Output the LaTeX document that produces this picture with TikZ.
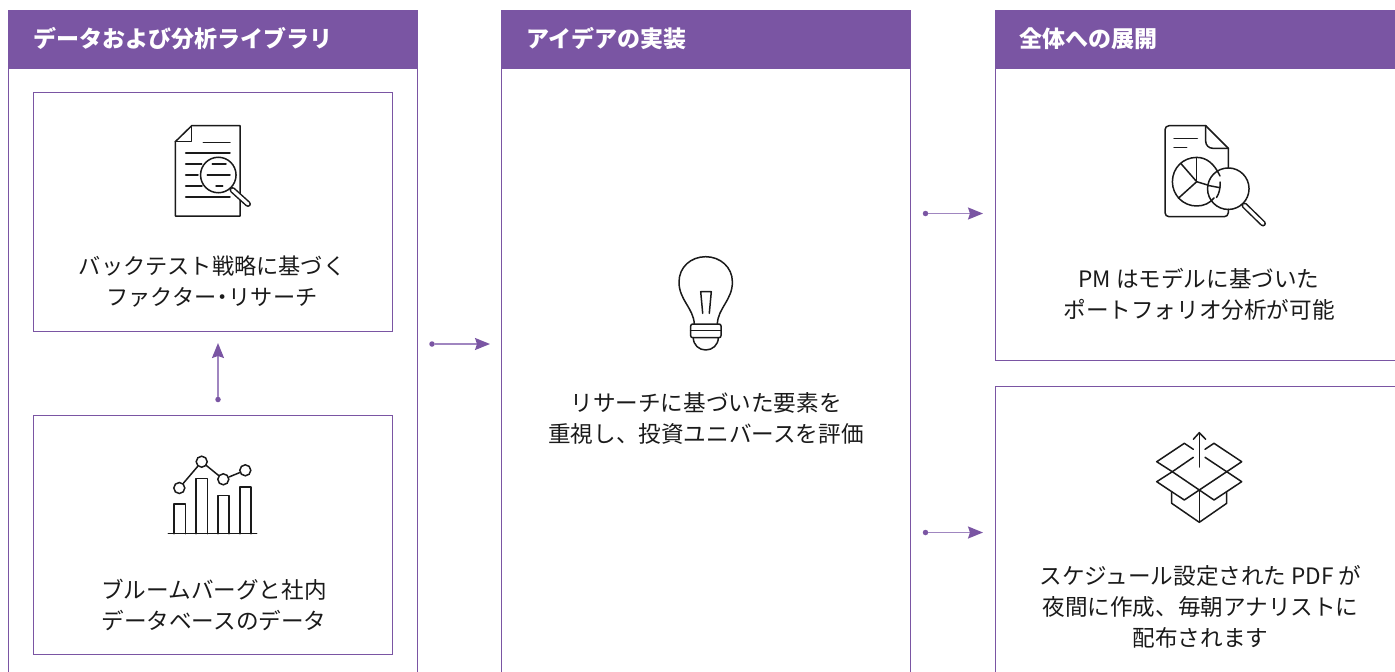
\documentclass[tikz,border=0pt]{standalone}
\usepackage{fontspec}
\setmainfont{Noto Sans CJK JP}
\usetikzlibrary{arrows.meta}

\definecolor{ccviolet}{RGB}{122,85,163}
\definecolor{ccvioletclair}{RGB}{160,134,192}
\definecolor{ccicon}{RGB}{26,26,26}

\tikzset{
  panelbox/.style={draw=ccviolet, line width=1, rectangle, inner sep=0pt},
  headbox/.style={fill=ccviolet, draw=ccviolet, rectangle, inner sep=0pt},
  headtext/.style={text=white, right, inner sep=0pt, font=\fontsize{23}{26}\selectfont\bfseries},
  bodytext/.style={text=ccicon, align=center, inner sep=0pt, font=\fontsize{22.6}{31}\selectfont},
  flowdot/.style={circle, fill=ccviolet, inner sep=0pt, minimum size=5.5pt},
  flowarrow/.style={draw=ccvioletclair, line width=1.6, -{Stealth[length=15pt, width=12pt, inset=2pt, color=ccviolet]}},
  icon/.style={draw=ccicon, line width=1.5, line join=round, line cap=round},
  iconring/.style={circle, draw=ccicon, line width=1.5, inner sep=0pt},
}

\begin{document}
\begin{tikzpicture}[x=1pt, y=-1pt]

  % Bounding box of the scheme
  \useasboundingbox (0,0) rectangle (1395,672);

  %%%%%%%%%%%%%%%%%%%%%%%%%%%%%%%%% Panels %%%%%%%%%%%%%%%%%%%%%%%%%%%%%%%%%%%%
  \draw (212.75,380) node[panelbox, minimum width=408.5pt, minimum height=740pt] (Pdata) {} ;
  \draw (706,380) node[panelbox, minimum width=409pt, minimum height=740pt] (Pidea) {} ;

  \draw (212.75,39) node[headbox, minimum width=408.5pt, minimum height=58pt] (Hdata) {} ;
  \draw (706,39) node[headbox, minimum width=409pt, minimum height=58pt] (Hidea) {} ;
  \draw (1215,39) node[headbox, minimum width=440pt, minimum height=58pt] (Hall) {} ;

  \draw (33,39) node[headtext] (Tdata) {データおよび分析ライブラリ} ;
  \draw (526,39) node[headtext] (Tidea) {アイデアの実装} ;
  \draw (1019,39) node[headtext] (Tall) {全体への展開} ;

  %%%%%%%%%%%%%%%%%%%%%%%%%%%%%%%%% Inner boxes %%%%%%%%%%%%%%%%%%%%%%%%%%%%%%%%%%%%
  \draw (212.5,211.5) node[panelbox, minimum width=359pt, minimum height=239pt] (Bfactor) {} ;
  \draw (212.5,534.5) node[panelbox, minimum width=359pt, minimum height=239pt] (Bbloom) {} ;
  \draw (1215,214) node[panelbox, minimum width=440pt, minimum height=292pt] (Bpm) {} ;
  \draw (1215,536) node[panelbox, minimum width=440pt, minimum height=300pt] (Bpdf) {} ;

  \draw (212,281.5) node[bodytext, font=\fontsize{22.2}{31}\selectfont] (Lfactor) {バックテスト戦略に基づく\\ファクター\kern-5pt・\kern-5ptリサーチ} ;
  \draw (214,604.5) node[bodytext] (Lbloom) {ブルームバーグと社内\\データベースのデータ} ;
  \draw (706,418.5) node[bodytext] (Lidea) {リサーチに基づいた要素を\\重視し、投資ユニバースを評価} ;
  \draw (1199,294.5) node[bodytext] (Lpm) {PM はモデルに基づいた\\ポートフォリオ分析が可能} ;
  \draw (1200.5,606.5) node[bodytext] (Lpdf) {スケジュール設定された PDF が\\夜間に作成、毎朝アナリストに\\配布されます} ;

  %%%%%%%%%%%%%%%%%%%%%%%%%%%%%%%%% Arrows %%%%%%%%%%%%%%%%%%%%%%%%%%%%%%%%%%%%
  \draw (218,399.5) node[flowdot] (Dbloom) {} ;
  \coordinate (Ebloom) at (218,343);
  \draw (432,344) node[flowdot] (Ddata) {} ;
  \coordinate (Edata) at (490,344);
  \draw (925.5,213.5) node[flowdot] (Dpm) {} ;
  \coordinate (Epm) at (983,213.5);
  \draw (925.5,532.5) node[flowdot] (Dpdf) {} ;
  \coordinate (Epdf) at (983,532.5);

  \draw[flowarrow] (Dbloom) -- (Ebloom) ;
  \draw[flowarrow] (Ddata) -- (Edata) ;
  \draw[flowarrow] (Dpm) -- (Epm) ;
  \draw[flowarrow] (Dpdf) -- (Epdf) ;

  %%%%%%%%%%%%%%%%%%%%%%%%%%%%%%%%% Icon : document %%%%%%%%%%%%%%%%%%%%%%%%%%%%%%%%%%%%
  \draw[icon] (175.3,141.7) -- (191.7,125.7) -- (240,125.7) -- (240,216) -- (175.3,216) -- cycle ;
  \draw[icon] (191.7,125.7) -- (191.7,141.7) -- (175.3,141.7) ;
  \draw[icon] (203.3,142.7) -- (230,142.7) ;
  \draw[icon] (185.7,153) -- (230,153) ;
  \draw[icon] (185.7,164) -- (201.7,164) (212.3,164) -- (226,164) ;
  \draw[icon] (185.7,175) -- (198,175) (207.3,175) -- (230,175) ;
  \draw[icon] (185.7,186) -- (202,186) (216,186) -- (222.7,186) ;
  \draw[icon] (185.7,197) -- (230,197) ;
  \draw (218.3,175) node[iconring, minimum size=35.5pt] (Lens1) {} ;
  \draw[line width=6, line cap=round, color=ccicon] (232.5,190) -- (248,204) ;
  \draw[line width=3, line cap=round, color=white] (232.5,190) -- (248,204) ;

  %%%%%%%%%%%%%%%%%%%%%%%%%%%%%%%%% Icon : chart %%%%%%%%%%%%%%%%%%%%%%%%%%%%%%%%%%%%
  \draw[icon] (168.3,533.7) -- (256.7,533.7) ;
  \foreach \xa/\xb/\ytop in {174/185.3/504, 196/207.3/478.3, 218/229/495.7, 240/251/487}
    \draw[icon] (\xa,533.7) -- (\xa,\ytop) -- (\xb,\ytop) -- (\xb,533.7) ;
  \draw (179.3,488) node[iconring, minimum size=11pt] (C1) {} ;
  \draw (201.7,461.7) node[iconring, minimum size=11pt] (C2) {} ;
  \draw (223.3,479.3) node[iconring, minimum size=11pt] (C3) {} ;
  \draw (245.3,470.3) node[iconring, minimum size=11pt] (C4) {} ;
  \draw[icon] (C1) -- (C2) ;
  \draw[icon] (C2) -- (C3) ;
  \draw[icon] (C3) -- (C4) ;

  %%%%%%%%%%%%%%%%%%%%%%%%%%%%%%%%% Icon : bulb %%%%%%%%%%%%%%%%%%%%%%%%%%%%%%%%%%%%
  \draw[icon] (694.3,324) .. controls (693.5,308) and (679,300) .. (679,282)
    .. controls (679,267) and (691,256.7) .. (705.7,256.7)
    .. controls (720,256.7) and (732.4,267) .. (732.4,282)
    .. controls (732.4,300) and (718,308) .. (717.3,324) ;
  \draw[icon, rounded corners=2pt] (690.7,324) rectangle (721,337.7) ;
  \draw[icon] (690.7,330.7) -- (721,330.7) ;
  \draw[icon] (693.3,337.7) .. controls (693.3,345) and (699,350) .. (705.7,350)
    .. controls (712.5,350) and (718.3,345) .. (718.3,337.7) ;
  \draw[icon] (702.7,313.3) -- (700.7,291.7) -- (711.3,291.7) -- (709.3,313.3) ;

  %%%%%%%%%%%%%%%%%%%%%%%%%%%%%%%%% Icon : report %%%%%%%%%%%%%%%%%%%%%%%%%%%%%%%%%%%%
  \draw[icon, rounded corners=4pt] (1228.3,209.3) -- (1228.3,216.7) -- (1165,216.7) -- (1165,125.7) -- (1205.7,125.7) ;
  \draw[icon] (1205.7,125.7) -- (1228.3,148.3) -- (1228.3,168) ;
  \draw[icon, rounded corners=7pt] (1205.7,125.7) -- (1205.7,148.3) -- (1228.3,148.3) ;
  \draw[icon] (1174,138.3) -- (1197.3,138.3) ;
  \draw[icon] (1174,147.3) -- (1186.7,147.3) ;
  \draw[icon] (1220,176) .. controls (1214,163) and (1206,157.4) .. (1196.7,157.4)
    .. controls (1183,157.4) and (1172.4,168) .. (1172.4,181.7)
    .. controls (1172.4,195) and (1183,206) .. (1196.7,206)
    .. controls (1204,206) and (1210,203) .. (1214,198) ;
  \draw[icon] (1220,182) .. controls (1220.5,188) and (1219,194) .. (1216.5,197.5) ;
  \draw[icon] (1196.7,181.7) -- (1196.7,158) ;
  \draw[icon] (1196.7,181.7) -- (1180.7,163.3) ;
  \draw[icon] (1196.7,181.7) -- (1178.3,198.3) ;
  \draw[icon] (1196.7,181.7) -- (1207.5,185) (1208.5,185.5) -- (1220,187.7) ;
  \draw (1228.3,188.7) node[iconring, minimum size=41.5pt] (Lens2) {} ;
  \draw[line width=6, line cap=round, color=ccicon] (1244.5,205.5) -- (1263,223.5) ;
  \draw[line width=3, line cap=round, color=white] (1244.5,205.5) -- (1263,223.5) ;

  %%%%%%%%%%%%%%%%%%%%%%%%%%%%%%%%% Icon : box %%%%%%%%%%%%%%%%%%%%%%%%%%%%%%%%%%%%
  \draw[icon] (1193.3,457.3) -- (1172.3,471.7) -- (1156.7,461.7) -- (1184.3,443.3) -- (1193.3,449.3) ;
  \draw[icon] (1205,457.3) -- (1226.7,471.7) -- (1241.7,461.7) -- (1214,443.3) -- (1205,449.3) ;
  \draw[icon] (1172.3,471.7) -- (1199.3,490) -- (1226.7,471.7) ;
  \draw[icon] (1172.3,471.7) -- (1156.7,481.7) -- (1184.3,500) -- (1199.3,490) ;
  \draw[icon] (1226.7,471.7) -- (1241.7,481.7) -- (1214,500) -- (1199.3,490) ;
  \draw[icon] (1171.7,491.7) -- (1171.7,503.3) -- (1199.3,522.3) -- (1226.7,503.3) -- (1226.7,491.7) ;
  \draw[icon] (1199.3,490) -- (1199.3,522.3) ;
  \draw[icon] (1199.3,467) -- (1199.3,432.7) ;
  \draw[icon] (1193.3,439.3) -- (1199.3,432.7) -- (1205.7,439.3) ;

\end{tikzpicture}
\end{document}
